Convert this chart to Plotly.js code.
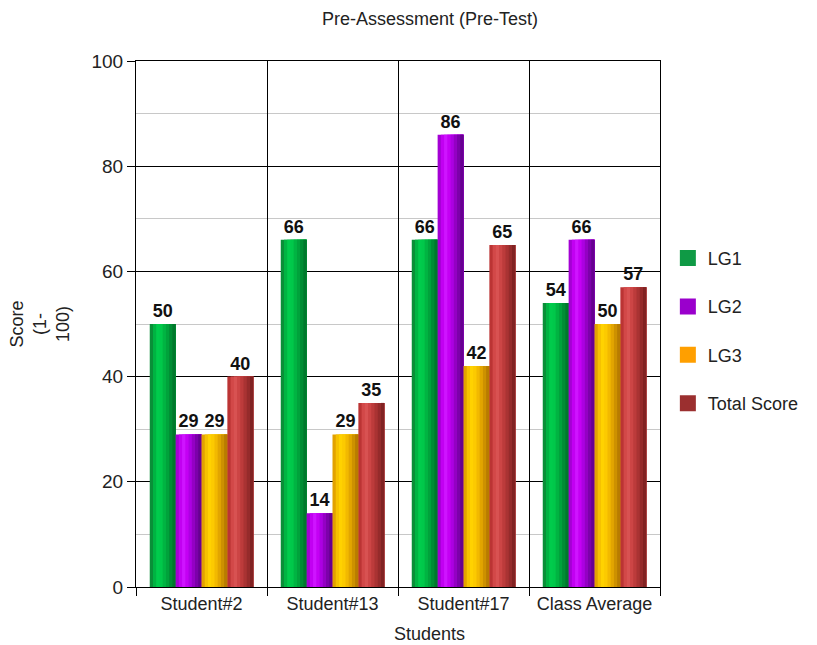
<!DOCTYPE html>
<html>
<head>
<meta charset="utf-8">
<script src="https://cdn.plot.ly/plotly-3.0.1.min.js"></script>
<style>html,body{margin:0;padding:0;background:#fff;}#chart{width:817px;height:645px;}</style>
</head>
<body>
<div id="chart"></div>
<script>
// ---- data ----
const categories = ["Student#2", "Student#13", "Student#17", "Class Average"];
const seriesNames = ["LG1", "LG2", "LG3", "Total Score"];
const lg1 = [50, 66, 66, 54];
const lg2 = [29, 14, 86, 66];
const lg3 = [29, 29, 42, 50];
const totalScore = [40, 35, 65, 57];
const yTicks = [0, 20, 40, 60, 80, 100];

// ---- styling ----
const seriesValues = [lg1, lg2, lg3, totalScore];
const legendColors = ["#0f9a45", "#9a00cc", "#ff9f00", "#9b2f2f"];
const gradients = [
  ["#0a8f38","#00b442","#00cc4c","#00c84a","#00b442","#00a23b","#008d34","#00782c"],
  ["#a400d4","#c200f2","#cf14ff","#c400f4","#ac00e2","#9400c4","#7c00aa","#660090"],
  ["#e2a200","#f6c200","#ffd200","#fcca00","#f2b900","#e2a500","#cd9100","#b87c00"],
  ["#bb3434","#d24848","#d85252","#cc4545","#bc3b3b","#a93333","#952b2b","#812323"]
];
const groupWidth = 0.79;
const barW = groupWidth / seriesValues.length;
const nSlices = gradients[0].length;
const sliceW = barW / nSlices;
const fontFam = "Liberation Sans, Arial, Helvetica, sans-serif";

const traces = [];
seriesValues.forEach((vals, i) => {
  const start = -groupWidth / 2 + i * barW;
  for (let j = 0; j < nSlices; j++) {
    traces.push({
      type: "bar", x: categories, y: vals,
      width: barW - j * sliceW, offset: start + j * sliceW,
      marker: {color: gradients[i][j], line: {width: 0}},
      showlegend: false, hoverinfo: "skip"
    });
  }
});
// value labels
seriesValues.forEach((vals, i) => {
  traces.push({
    type: "bar", x: categories, y: vals,
    width: barW, offset: -groupWidth / 2 + i * barW,
    marker: {color: "rgba(0,0,0,0)", line: {width: 0}},
    text: vals.map(String), textposition: "outside", cliponaxis: false,
    textfont: {family: fontFam, size: 18, color: "#111", weight: "bold"},
    showlegend: false, name: seriesNames[i]
  });
});
// legend entries
seriesNames.forEach((n, i) => {
  traces.push({
    type: "scatter", mode: "markers", x: [categories[0]], y: [null],
    name: n, legendgroup: n,
    marker: {symbol: "square", size: 16, color: legendColors[i]}
  });
});

const layout = {
  width: 817, height: 645,
  margin: {l: 136, r: 157, t: 61, b: 58},
  barmode: "overlay",
  paper_bgcolor: "#fff", plot_bgcolor: "#fff",
  font: {family: fontFam, color: "#222"},
  xaxis: {
    type: "category", tickson: "boundaries", ticks: "outside", ticklen: 8,
    tickcolor: "#000", showgrid: true, gridcolor: "#000", gridwidth: 1,
    showline: true, linecolor: "#000", mirror: true, tickangle: 0,
    automargin: false,
    tickfont: {size: 18, family: fontFam, color: "#222"},
    range: [-0.5, 3.5], fixedrange: true
  },
  yaxis: {
    range: [0, 100], tickvals: yTicks, ticks: "outside", ticklen: 8,
    tickcolor: "#000", showgrid: true, gridcolor: "#000", gridwidth: 1,
    showline: true, linecolor: "#000", mirror: true, zeroline: false,
    automargin: false,
    minor: {dtick: 10, showgrid: true, gridcolor: "#c8c8c8", ticks: ""},
    tickfont: {size: 19, family: fontFam, color: "#222"}
  },
  legend: {
    x: 1.015, y: 0.66, xanchor: "left", yanchor: "top",
    font: {size: 18, family: fontFam, color: "#222"},
    tracegroupgap: 22, bgcolor: "rgba(0,0,0,0)"
  },
  annotations: [
    {text: "Pre-Assessment (Pre-Test)", xref: "paper", yref: "paper",
     x: 0.561, y: 1.08, xanchor: "center", yanchor: "middle", showarrow: false,
     font: {size: 18, family: fontFam, color: "#222"}},
    {text: "Students", xref: "paper", yref: "paper",
     x: 0.561, y: -0.089, xanchor: "center", yanchor: "middle", showarrow: false,
     font: {size: 18, family: fontFam, color: "#222"}},
    {text: "Score<br>(1-<br>100)", xref: "paper", yref: "paper",
     x: -0.184, y: 0.50, xanchor: "center", yanchor: "middle", showarrow: false,
     textangle: -90, align: "center",
     font: {size: 18, family: fontFam, color: "#222"}}
  ]
};

Plotly.newPlot("chart", traces, layout, {displayModeBar: false, staticPlot: true});
</script>
</body>
</html>
